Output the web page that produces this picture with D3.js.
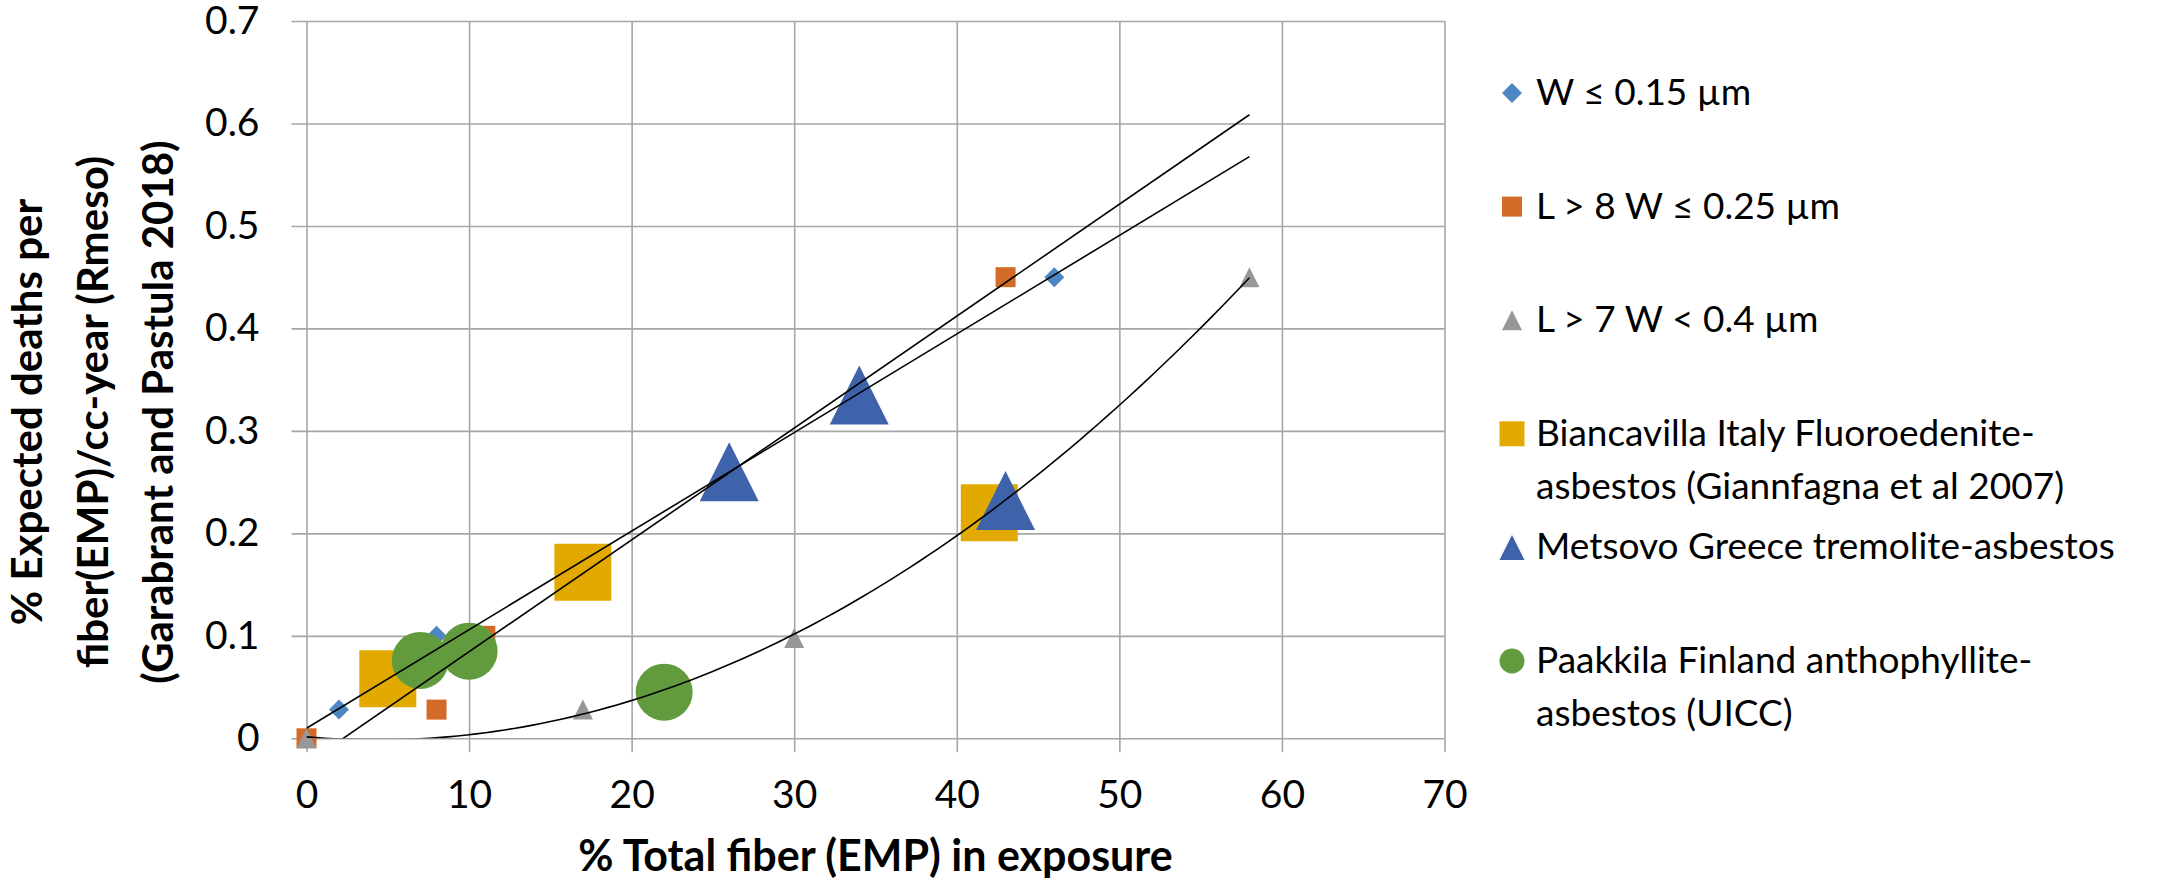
<!DOCTYPE html>
<html>
<head>
<meta charset="utf-8">
<script src="https://cdn.jsdelivr.net/npm/d3@7"></script>
<style>
  body { margin: 0; background: #fff; }
  text { font-family: Lato, "Open Sans", sans-serif; fill: #000; }
</style>
</head>
<body>
<svg id="chart" width="2160" height="879"></svg>
<script>
// values
var wThinX = [0, 2, 8, 46],
    wThinY = [0, 0.028, 0.1, 0.45];
var l8X = [0, 8, 11, 43],
    l8Y = [0, 0.028, 0.1, 0.45];
var l7X = [0, 17, 30, 58],
    l7Y = [0, 0.028, 0.098, 0.45];
var biancavillaX = [5, 17, 42],
    biancavillaY = [0.058, 0.162, 0.22];
var metsovoX = [26, 34, 43],
    metsovoY = [0.26, 0.335, 0.232];
var paakkilaX = [7, 10, 22],
    paakkilaY = [0.076, 0.085, 0.045];

var legendLabels = [
  ["W ≤ 0.15 µm"],
  ["L > 8 W ≤ 0.25 µm"],
  ["L > 7 W < 0.4 µm"],
  ["Biancavilla Italy Fluoroedenite-", "asbestos (Giannfagna et al 2007)"],
  ["Metsovo Greece tremolite-asbestos"],
  ["Paakkila Finland anthophyllite-", "asbestos (UICC)"]
];
var trendTypes = ["linear", "linear", "poly2", null, null, null];

var xTicks = [0, 10, 20, 30, 40, 50, 60, 70];
var yTicks = [0, 0.1, 0.2, 0.3, 0.4, 0.5, 0.6, 0.7];

// styles
var colors = ["#4D87C3", "#D36B28", "#979797", "#E2AA00", "#3E63AB", "#629B3E"];
var shapes = ["diamond", "square", "triangle", "square", "triangle", "circle"];
var markerSize = [20, 20, 20, 57, 59, 57];
var legendSize = [20, 20, 20, 25, 25, 25];

var series = [
  {xs: wThinX, ys: wThinY}, {xs: l8X, ys: l8Y}, {xs: l7X, ys: l7Y},
  {xs: biancavillaX, ys: biancavillaY}, {xs: metsovoX, ys: metsovoY}, {xs: paakkilaX, ys: paakkilaY}
].map(function(s, i) {
  return {
    points: s.xs.map(function(x, j) { return {x: x, y: s.ys[j]}; }),
    label: legendLabels[i], trend: trendTypes[i],
    color: colors[i], shape: shapes[i], size: markerSize[i], lsize: legendSize[i]
  };
});

var svg = d3.select("#chart"),
    margin = {top: 21, right: 715.5, bottom: 140.7, left: 306.5},
    width = +svg.attr("width") - margin.left - margin.right,
    height = +svg.attr("height") - margin.top - margin.bottom,
    g = svg.append("g").attr("transform", "translate(" + margin.left + "," + margin.top + ")");

var x = d3.scaleLinear().domain([0, 70]).range([0, width]);
var y = d3.scaleLinear().domain([0, 0.7]).range([height, 0]);

function markerPath(shape, s) {
  var h = s / 2, p = d3.path();
  if (shape === "diamond") {
    p.moveTo(0, -h); p.lineTo(h, 0); p.lineTo(0, h); p.lineTo(-h, 0); p.closePath();
  } else if (shape === "square") {
    p.rect(-h, -h, s, s);
  } else if (shape === "triangle") {
    p.moveTo(0, -h); p.lineTo(h, h); p.lineTo(-h, h); p.closePath();
  } else {
    p.arc(0, 0, h, 0, 2 * Math.PI);
  }
  return p.toString();
}

// grid + axes
var gridColor = "#A6A6A6";
var yAxis = g.append("g")
    .call(d3.axisLeft(y).tickValues(yTicks).tickSize(-width).tickPadding(47)
      .tickFormat(function(d) { return d === 0 ? "0" : d3.format(".1f")(d); }));
yAxis.select(".domain").remove();
yAxis.selectAll("line").attr("x1", -15).attr("stroke", gridColor).attr("stroke-width", 1.6);
yAxis.selectAll("text").attr("font-size", 39).attr("font-family", null);

var xAxis = g.append("g")
    .attr("transform", "translate(0," + height + ")")
    .call(d3.axisBottom(x).tickValues(xTicks).tickSize(-height).tickPadding(42));
xAxis.select(".domain").remove();
xAxis.selectAll("line").attr("y1", 14).attr("stroke", gridColor).attr("stroke-width", 1.6);
xAxis.selectAll("text").attr("font-size", 39).attr("font-family", null);

// markers
svg.append("clipPath").attr("id", "plotClip")
  .append("rect").attr("width", width).attr("height", height);

series.forEach(function(s) {
  g.append("g").selectAll("path")
    .data(s.points)
    .enter().append("path")
      .attr("transform", function(d) { return "translate(" + x(d.x) + "," + y(d.y) + ")"; })
      .attr("d", markerPath(s.shape, s.size))
      .attr("fill", s.color);
});

// trendlines (least squares fits of the series above)
function linearFit(pts) {
  var mx = d3.mean(pts, function(d) { return d.x; }), my = d3.mean(pts, function(d) { return d.y; });
  var sxy = d3.sum(pts, function(d) { return (d.x - mx) * (d.y - my); });
  var sxx = d3.sum(pts, function(d) { return (d.x - mx) * (d.x - mx); });
  var b = sxy / sxx, a = my - b * mx;
  return function(v) { return a + b * v; };
}
function quadFit(pts) {
  var S = function(px, py) { return d3.sum(pts, function(d) { return Math.pow(d.x, px) * Math.pow(d.y, py); }); };
  var m = [[S(0,0), S(1,0), S(2,0), S(0,1)],
           [S(1,0), S(2,0), S(3,0), S(1,1)],
           [S(2,0), S(3,0), S(4,0), S(2,1)]];
  for (var i = 0; i < 3; i++) {
    for (var k = i + 1; k < 3; k++) {
      var f = m[k][i] / m[i][i];
      for (var j = i; j < 4; j++) m[k][j] -= f * m[i][j];
    }
  }
  var c = [0, 0, 0];
  for (i = 2; i >= 0; i--) {
    var t = m[i][3];
    for (j = i + 1; j < 3; j++) t -= m[i][j] * c[j];
    c[i] = t / m[i][i];
  }
  return function(v) { return c[0] + c[1] * v + c[2] * v * v; };
}

var allX = d3.merge(series.map(function(s) { return s.points.map(function(d) { return d.x; }); }));
var trendExtent = d3.extent(allX);
var line = d3.line().x(function(d) { return x(d[0]); }).y(function(d) { return y(d[1]); });
var trendG = g.append("g").attr("clip-path", "url(#plotClip)");

series.forEach(function(s) {
  if (!s.trend) return;
  var f = s.trend === "linear" ? linearFit(s.points) : quadFit(s.points);
  var n = s.trend === "linear" ? 1 : 100;
  var xs = d3.range(n + 1).map(function(i) { return trendExtent[0] + (trendExtent[1] - trendExtent[0]) * i / n; });
  trendG.append("path")
    .attr("d", line(xs.map(function(v) { return [v, f(v)]; })))
    .attr("fill", "none")
    .attr("stroke", "#000")
    .attr("stroke-width", 1.6);
});

// axis titles
g.append("text")
    .attr("x", width / 2)
    .attr("y", 871 - margin.top)
    .attr("text-anchor", "middle")
    .attr("font-size", 43)
    .attr("font-weight", "bold")
    .text("% Total fiber (EMP) in exposure");

var yTitle = ["% Expected deaths per", "fiber(EMP)/cc-year (Rmeso)", "(Garabrant and Pastula 2018)"];
svg.append("g").selectAll("text")
  .data(yTitle)
  .enter().append("text")
    .attr("transform", function(d, i) { return "translate(" + (42 + i * 65.5) + ",412) rotate(-90)"; })
    .attr("text-anchor", "middle")
    .attr("font-size", 42)
    .attr("font-weight", "bold")
    .text(function(d) { return d; });

// legend
var legend = svg.append("g")
  .selectAll("g")
  .data(series)
  .enter().append("g")
    .attr("transform", function(d, i) { return "translate(1512," + (93 + i * 113.6) + ")"; });

legend.append("path")
    .attr("d", function(d) { return markerPath(d.shape, d.lsize); })
    .attr("fill", function(d) { return d.color; });

legend.append("text")
    .attr("x", 24)
    .attr("y", 12)
    .attr("font-size", 37)
  .selectAll("tspan")
  .data(function(d) { return d.label; })
  .enter().append("tspan")
    .attr("x", 24)
    .attr("dy", function(d, i) { return i === 0 ? 0 : 53; })
    .text(function(d) { return d; });
</script>
</body>
</html>
